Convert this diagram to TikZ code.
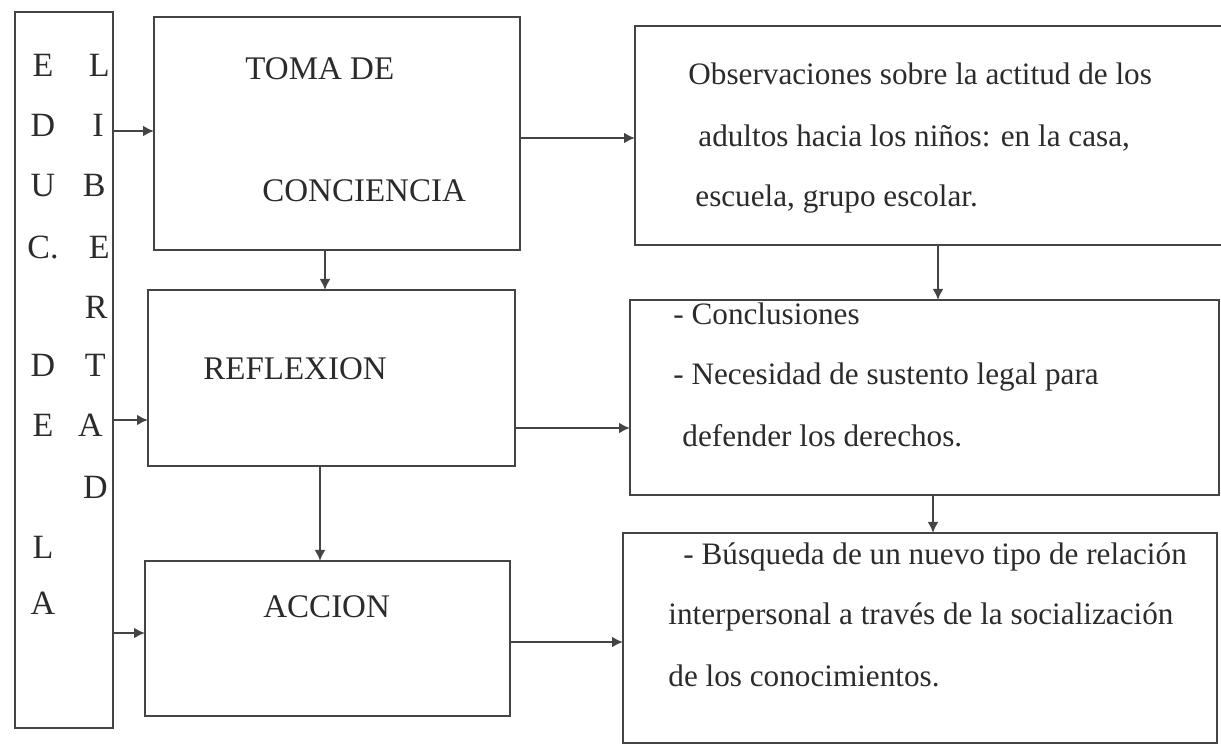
\documentclass[tikz,border=0pt]{standalone}
\usepackage{fontspec}
\setmainfont{Liberation Serif}
\usetikzlibrary{arrows.meta}
\definecolor{ink}{HTML}{444444}
\definecolor{txt}{HTML}{2B2B2B}
\begin{document}
\begin{tikzpicture}[x=0.5pt,y=-0.5pt,
  box/.style={draw=ink, line width=1.3pt, anchor=north west, inner sep=0pt, outer sep=0pt},
  arr/.style={draw=ink, line width=1.1pt, -{Latex[length=5.5pt,width=5.5pt]}},
  captxt/.style={anchor=base west, inner sep=0pt, text=txt, font=\fontsize{16.5}{18}\selectfont},
  lett/.style={anchor=base, inner sep=0pt, text=txt, font=\fontsize{17}{18}\selectfont},
  rlett/.style={anchor=base east, inner sep=0pt, text=txt, font=\fontsize{17}{18}\selectfont},
  body/.style={anchor=base west, inner sep=0pt, text=txt, font=\fontsize{15.6}{18}\selectfont}]
\useasboundingbox (0,0) rectangle (1221,747);
% boxes
\node[box, minimum width=49pt, minimum height=358pt] (bar) at (15,12) {};
\node[box, minimum width=183pt, minimum height=116.5pt] (toma) at (154,17) {};
\node[box, minimum width=183.5pt, minimum height=88pt] (refl) at (148,290) {};
\node[box, minimum width=182.5pt, minimum height=77.5pt] (acc) at (145,561) {};
\node[box, minimum width=296pt, minimum height=109.5pt] (boxA) at (635,26) {};
\node[box, minimum width=294.5pt, minimum height=97.5pt] (boxB) at (630,300) {};
\node[box, minimum width=297pt, minimum height=105pt] (boxC) at (623,533) {};
% letters in the bar
\foreach \t/\y [count=\i] in {E/77, D/137, U/197, C./259, D/377, E/437, L/559, A/615}
  \node[lett] (le\i) at (43,\y) {\t};
\foreach \t/\xx/\y [count=\i] in {L/110/77, I/104/137, B/106/197, E/110/259, R/108/319, T/106/377, A/103/437, D/108/499}
  \node[rlett] (ri\i) at (\xx,\y) {\t};
% captions
\node[captxt] (t1) at (245,80) {TOMA DE};
\node[captxt] (t2) at (262,202) {CONCIENCIA};
\node[captxt] (t3) at (203,380) {REFLEXION};
\node[captxt] (t4) at (263,618) {ACCION};
% body texts
\node[body] (a1) at (688,85) {Observaciones sobre la actitud de los};
\node[body] (a2) at (698,147) {adultos hacia los niños: en la casa,};
\node[body] (a3) at (695,207) {escuela, grupo escolar.};
\node[body] (b1) at (673,325) {- Conclusiones};
\node[body] (b2) at (673,385) {- Necesidad de sustento legal para};
\node[body] (b3) at (682,447) {defender los derechos.};
\node[body] (c1) at (683,565) {- Búsqueda de un nuevo tipo de relación};
\node[body] (c2) at (668,625) {interpersonal a través de la socialización};
\node[body] (c3) at (668,687) {de los conocimientos.};
% helper coordinates
\coordinate (h1) at (0,131);
\coordinate (h2) at (0,420);
\coordinate (h3) at (0,633);
\coordinate (h4) at (0,138);
\coordinate (h5) at (0,428);
\coordinate (h6) at (0,642);
\coordinate (v1) at (325,0);
\coordinate (v2) at (320,0);
\coordinate (v3) at (938,0);
\coordinate (v4) at (933,0);
% connectors
\draw[arr] (bar.east |- h1) -- (toma.west |- h1);
\draw[arr] (bar.east |- h2) -- (refl.west |- h2);
\draw[arr] (bar.east |- h3) -- (acc.west |- h3);
\draw[arr] (toma.east |- h4) -- (boxA.west |- h4);
\draw[arr] (refl.east |- h5) -- (boxB.west |- h5);
\draw[arr] (acc.east |- h6) -- (boxC.west |- h6);
\draw[arr] (toma.south -| v1) -- (refl.north -| v1);
\draw[arr] (refl.south -| v2) -- (acc.north -| v2);
\draw[arr] (boxA.south -| v3) -- (boxB.north -| v3);
\draw[arr] (boxB.south -| v4) -- (boxC.north -| v4);
\end{tikzpicture}
\end{document}
